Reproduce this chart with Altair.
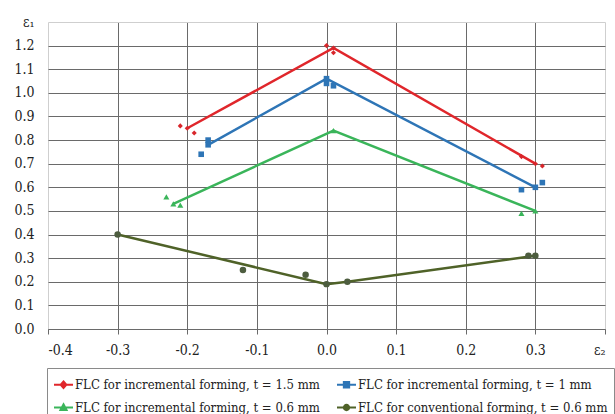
import altair as alt
import pandas as pd

S1 = "FLC for incremental forming, t = 1.5 mm"
S2 = "FLC for incremental forming, t = 1 mm"
S3 = "FLC for incremental forming, t = 0.6 mm"
S4 = "FLC for conventional forming, t = 0.6 mm"
series_names = [S1, S2, S3, S4]
series_colors = ["#e0262b", "#2e75b6", "#3ab55a", "#4f6228"]
point_colors = ["#d8262b", "#2e75b6", "#3ab55a", "#4d5d3f"]
marker_shapes = ["diamond", "square", "triangle-up", "circle"]
marker_sizes = [26, 42, 30, 42]

# fitted curves (vertices)
line1_x = [-0.20, 0.01, 0.30]
line1_y = [0.85, 1.19, 0.70]
line2_x = [-0.17, 0.00, 0.30]
line2_y = [0.78, 1.06, 0.60]
line3_x = [-0.22, 0.01, 0.30]
line3_y = [0.53, 0.84, 0.50]
line4_x = [-0.30, 0.00, 0.03, 0.30]
line4_y = [0.40, 0.19, 0.20, 0.31]

# measured points
pts1_x = [-0.21, -0.20, -0.19, 0.00, 0.01, 0.01, 0.28, 0.30, 0.31]
pts1_y = [0.86, 0.85, 0.83, 1.20, 1.19, 1.17, 0.73, 0.70, 0.69]
pts2_x = [-0.18, -0.17, -0.17, 0.00, 0.00, 0.01, 0.28, 0.30, 0.31]
pts2_y = [0.74, 0.80, 0.78, 1.06, 1.04, 1.03, 0.59, 0.60, 0.62]
pts3_x = [-0.23, -0.22, -0.21, 0.01, 0.28, 0.30]
pts3_y = [0.56, 0.53, 0.525, 0.84, 0.49, 0.50]
pts4_x = [-0.30, -0.12, -0.03, 0.00, 0.03, 0.29, 0.30]
pts4_y = [0.40, 0.25, 0.23, 0.19, 0.20, 0.31, 0.31]

x_ticks = [-0.4, -0.3, -0.2, -0.1, 0.0, 0.1, 0.2, 0.3, 0.4]
y_ticks = [0.0, 0.1, 0.2, 0.3, 0.4, 0.5, 0.6, 0.7, 0.8, 0.9, 1.0, 1.1, 1.2, 1.3]

legend_paths = [
    "M-1,0L1,0M0,-0.34L0.3,0L0,0.34L-0.3,0Z",
    "M-1,0L1,0M-0.28,-0.28L0.28,-0.28L0.28,0.28L-0.28,0.28Z",
    "M-1,0L1,0M0,-0.34L0.32,0.26L-0.32,0.26Z",
    "M-1,0L1,0M0.28,0A0.28,0.28,0,1,1,-0.28,0A0.28,0.28,0,1,1,0.28,0Z",
]

lines = pd.concat([
    pd.DataFrame({"x": xs, "y": ys, "series": s, "order": range(len(xs))})
    for xs, ys, s in [(line1_x, line1_y, S1), (line2_x, line2_y, S2),
                      (line3_x, line3_y, S3), (line4_x, line4_y, S4)]
])
points = pd.concat([
    pd.DataFrame({"x": xs, "y": ys, "series": s})
    for xs, ys, s in [(pts1_x, pts1_y, S1), (pts2_x, pts2_y, S2),
                      (pts3_x, pts3_y, S3), (pts4_x, pts4_y, S4)]
])
legend_df = pd.DataFrame({"series": series_names, "x": [0.0] * 4, "y": [0.5] * 4})

FONT = "DejaVu Serif Condensed"

x_axis = alt.Axis(values=x_ticks, title=None, labelOverlap=False,
                  labelExpr="abs(datum.value-0.4)<0.001 ? 'ε₂' : ((datum.value < -0.001 ? '-' : '') + format(abs(datum.value), '.1f'))",
                  gridColor={"condition": {"test": "abs(abs(datum.value)-0.4)<0.001", "value": "#cfcfcf"}, "value": "#6a6a6a"},
                  tickSize=5, tickColor="#6a6a6a", domainColor="#6a6a6a",
                  labelPadding=9, labelFont=FONT, labelFontSize=14, labelColor="#222")
y_axis = alt.Axis(values=y_ticks, title=None, domain=False, ticks=False, labelOverlap=False,
                  labelExpr="abs(datum.value-1.3)<0.001 ? 'ε₁' : format(datum.value, '.1f')",
                  gridColor={"condition": {"test": "abs(datum.value-1.3)<0.001", "value": "#cfcfcf"}, "value": "#6a6a6a"},
                  labelPadding=14, labelFont=FONT, labelFontSize=14, labelColor="#222")

x_scale = alt.Scale(domain=[-0.4, 0.4], nice=False, zero=False)
y_scale = alt.Scale(domain=[0, 1.3], nice=False, zero=False)


def xe():
    return alt.X("x:Q", scale=x_scale, axis=x_axis)


def ye():
    return alt.Y("y:Q", scale=y_scale, axis=y_axis)


line_layer = alt.Chart(lines).mark_line(strokeWidth=2.5).encode(
    x=xe(), y=ye(),
    color=alt.Color("series:N", scale=alt.Scale(domain=series_names, range=series_colors), legend=None),
    detail="series:N",
    order="order:Q",
)

point_layer = alt.Chart(points).mark_point(filled=True, opacity=1).encode(
    x=xe(), y=ye(),
    fill=alt.Fill("series:N", scale=alt.Scale(domain=series_names, range=point_colors), legend=None),
    shape=alt.Shape("series:N", scale=alt.Scale(domain=series_names, range=marker_shapes), legend=None),
    size=alt.Size("series:N", scale=alt.Scale(domain=series_names, range=marker_sizes), legend=None),
)

leg = alt.Legend(orient="none", legendX=-1, legendY=346, columns=2,
                 direction="horizontal",
                 title=None, symbolSize=361, symbolStrokeWidth=2,
                 labelLimit=0, labelOffset=1, columnPadding=13,
                 rowPadding=5, padding=6, strokeColor="#8a8a8a",
                 fillColor="white", symbolOpacity=1,
                 labelFont=FONT, labelFontSize=13, labelColor="#222")

legend_layer = alt.Chart(legend_df).mark_point(filled=True, strokeWidth=2).encode(
    x=xe(), y=ye(),
    color=alt.Color("series:N", scale=alt.Scale(domain=series_names, range=series_colors), title=None, legend=leg),
    stroke=alt.Stroke("series:N", scale=alt.Scale(domain=series_names, range=series_colors), title=None, legend=leg),
    shape=alt.Shape("series:N", scale=alt.Scale(domain=series_names, range=legend_paths), title=None, legend=leg),
    opacity=alt.value(0),
)

chart = alt.layer(line_layer, point_layer, legend_layer).resolve_scale(
    shape="independent", fill="independent", color="independent",
    stroke="independent", size="independent"
).resolve_legend(
    shape="independent", fill="independent", color="independent",
    stroke="independent", size="independent"
).properties(
    width=557, height=307,
    autosize=alt.AutoSizeParams(type="none"),
    padding={"left": 48, "top": 22, "right": 10, "bottom": 85},
).configure_view(stroke=None)

chart.save("out.html", embed_options={"renderer": "svg", "actions": False})
